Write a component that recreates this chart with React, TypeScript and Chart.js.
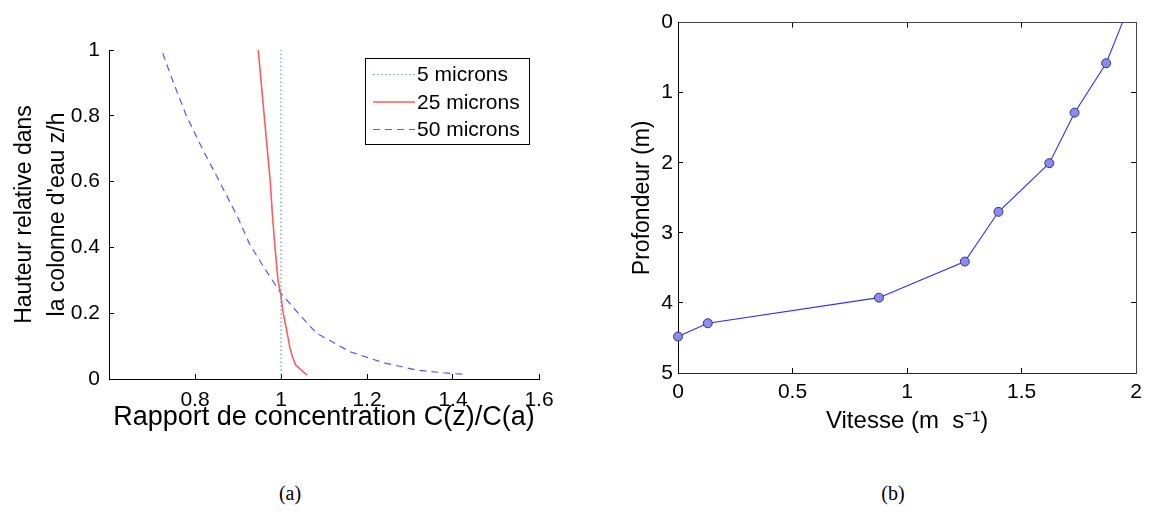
import React, { useEffect, useRef } from 'react';
import { Chart, registerables } from 'chart.js';

Chart.register(...registerables);

const FONT = "'Liberation Sans', Arial, Helvetica, sans-serif";

// ---- Left panel (a) ----
const LEFT_X_TICKS = [0.8, 1, 1.2, 1.4, 1.6];
const LEFT_Y_TICKS = [0, 0.2, 0.4, 0.6, 0.8, 1];
const LEFT_X_TITLE = 'Rapport de concentration C(z)/C(a)';
const LEFT_Y_TITLE = ['Hauteur relative dans', "la colonne d'eau z/h"];
const SERIES_LABELS = ['5 microns', '25 microns', '50 microns'];

const RATIO_5 = [1, 1];
const HEIGHT_5 = [0, 1];

const RATIO_25 = [0.947, 0.954, 0.961, 0.968, 0.975, 0.98, 0.986, 0.993, 0.999, 1.005, 1.013, 1.02, 1.026, 1.034, 1.047, 1.061];
const HEIGHT_25 = [1.0, 0.9, 0.8, 0.7, 0.6, 0.5, 0.4, 0.3, 0.26, 0.2, 0.15, 0.1, 0.07, 0.043, 0.027, 0.012];

const RATIO_50 = [0.725, 0.75, 0.78, 0.817, 0.857, 0.9, 0.927, 0.96, 1.0, 1.04, 1.082, 1.16, 1.237, 1.315, 1.393, 1.43];
const HEIGHT_50 = [0.99, 0.9, 0.8, 0.7, 0.6, 0.49, 0.41, 0.34, 0.26, 0.2, 0.14, 0.083, 0.05, 0.027, 0.017, 0.014];

// ---- Right panel (b) ----
const RIGHT_X_TICKS = [0, 0.5, 1, 1.5, 2];
const RIGHT_Y_TICKS = [0, 1, 2, 3, 4, 5];
const RIGHT_X_TITLE = 'Vitesse (m  s\u207B\u00B9)';
const RIGHT_Y_TITLE = 'Profondeur (m)';
const VELOCITY = [0, 0.13, 0.877, 1.252, 1.399, 1.621, 1.731, 1.869, 1.94];
const DEPTH = [4.48, 4.29, 3.925, 3.41, 2.7, 2.006, 1.285, 0.58, 0];
const MARKED = [true, true, true, true, true, true, true, true, false];

const CAPTIONS = ['(a)', '(b)'];

const zip = (xs: number[], ys: number[]) => xs.map((x, i) => ({ x, y: ys[i] }));
const setTicks = (vals: number[]) => (s: any) => {
  s.ticks = vals.map((v) => ({ value: v }));
};
const plainLabel = (v: any) => String(Number(v));

const tickFont = { family: FONT, size: 21 };

const legendBox = {
  id: 'legendBox',
  afterDraw(chart: any) {
    const ctx = chart.ctx;
    ctx.save();
    ctx.fillStyle = '#fff';
    ctx.fillRect(365.5, 58.5, 164, 86);
    ctx.strokeStyle = '#000';
    ctx.lineWidth = 1;
    ctx.strokeRect(365.5, 58.5, 164, 86);
    chart.data.datasets.forEach((ds: any, i: number) => {
      const y = 74.5 + i * 27.5;
      ctx.strokeStyle = ds.borderColor;
      ctx.lineWidth = ds.borderWidth;
      ctx.setLineDash(ds.borderDash || []);
      ctx.beginPath();
      ctx.moveTo(373, y);
      ctx.lineTo(415, y);
      ctx.stroke();
      ctx.setLineDash([]);
      ctx.fillStyle = '#000';
      ctx.font = `21px ${FONT}`;
      ctx.textBaseline = 'middle';
      ctx.textAlign = 'left';
      ctx.fillText(ds.label, 417, y + 1);
    });
    ctx.restore();
  },
};

function LeftChart() {
  const ref = useRef<HTMLCanvasElement | null>(null);
  useEffect(() => {
    const chart = new Chart(ref.current as HTMLCanvasElement, {
      type: 'line',
      data: {
        datasets: [
          { label: SERIES_LABELS[0], data: zip(RATIO_5, HEIGHT_5), borderColor: '#5aa6a6', borderWidth: 1.2, borderDash: [1.5, 2.5], pointRadius: 0 },
          { label: SERIES_LABELS[1], data: zip(RATIO_25, HEIGHT_25), borderColor: '#ff5c5c', borderWidth: 1.6, pointRadius: 0 },
          { label: SERIES_LABELS[2], data: zip(RATIO_50, HEIGHT_50), borderColor: '#5555ff', borderWidth: 1.2, borderDash: [7, 5], pointRadius: 0 },
        ],
      },
      options: {
        animation: false,
        responsive: false,
        maintainAspectRatio: false,
        devicePixelRatio: 1,
        layout: { padding: { left: 0, top: 50, right: 38, bottom: 0 } },
        plugins: { legend: { display: false }, tooltip: { enabled: false } },
        elements: { line: { tension: 0 } },
        scales: {
          x: {
            type: 'linear',
            position: 'bottom',
            min: 0.6,
            max: 1.6,
            afterBuildTicks: setTicks(LEFT_X_TICKS),
            afterFit: (s: any) => { s.height = 81; },
            grid: { drawOnChartArea: false, drawTicks: true, tickLength: -5, color: '#000' },
            border: { display: true, color: '#000', width: 1 },
            ticks: { font: tickFont, color: '#000', padding: 14, maxRotation: 0, autoSkip: false, callback: plainLabel },
            title: { display: true, text: LEFT_X_TITLE, color: '#000', font: { family: FONT, size: 27 }, padding: { top: 0, bottom: 26 } },
          },
          y: {
            type: 'linear',
            position: 'left',
            min: 0,
            max: 1,
            afterBuildTicks: setTicks(LEFT_Y_TICKS),
            afterFit: (s: any) => { s.width = 109; },
            grid: { drawOnChartArea: false, drawTicks: true, tickLength: -5, color: '#000' },
            border: { display: true, color: '#000', width: 1 },
            ticks: { font: tickFont, color: '#000', padding: 14, autoSkip: false, callback: plainLabel },
            title: { display: true, text: LEFT_Y_TITLE, color: '#000', font: { family: FONT, size: 23, lineHeight: 1.4 }, padding: { top: 9, bottom: 0 } },
          },
        },
      },
      plugins: [legendBox],
    } as any);
    return () => chart.destroy();
  }, []);
  return (
    <canvas ref={ref} width={577} height={460}
      style={{ position: 'absolute', left: 0, top: 0, width: 577, height: 460 }} />
  );
}

function RightChart() {
  const ref = useRef<HTMLCanvasElement | null>(null);
  useEffect(() => {
    const axisGrid = { drawOnChartArea: false, drawTicks: true, tickLength: -5, color: '#000' };
    const chart = new Chart(ref.current as HTMLCanvasElement, {
      type: 'line',
      data: {
        datasets: [
          {
            label: 'profil',
            data: zip(VELOCITY, DEPTH),
            borderColor: '#2d2dff',
            borderWidth: 1.1,
            pointRadius: MARKED.map((m) => (m ? 4.5 : 0)),
            pointBackgroundColor: '#8a8af2',
            pointBorderColor: '#34346e',
            pointBorderWidth: 1,
            clip: false,
          },
        ],
      },
      options: {
        animation: false,
        responsive: false,
        maintainAspectRatio: false,
        devicePixelRatio: 1,
        layout: { padding: { left: 0, top: 19, right: 7, bottom: 0 } },
        plugins: { legend: { display: false }, tooltip: { enabled: false } },
        elements: { line: { tension: 0 } },
        scales: {
          x: {
            type: 'linear',
            position: 'bottom',
            min: 0,
            max: 2,
            afterBuildTicks: setTicks(RIGHT_X_TICKS),
            afterFit: (s: any) => { s.height = 87; },
            grid: axisGrid,
            border: { display: true, color: '#222', width: 1 },
            ticks: { font: tickFont, color: '#000', padding: 12, maxRotation: 0, autoSkip: false, callback: plainLabel },
            title: { display: true, text: RIGHT_X_TITLE, color: '#000', font: { family: FONT, size: 24 }, padding: { top: 0, bottom: 24 } },
          },
          x2: {
            type: 'linear',
            position: 'top',
            min: 0,
            max: 2,
            afterBuildTicks: setTicks(RIGHT_X_TICKS),
            afterFit: (s: any) => { s.height = 0; },
            grid: axisGrid,
            border: { display: true, color: '#444', width: 1 },
            ticks: { display: false },
          },
          y: {
            type: 'linear',
            position: 'left',
            reverse: true,
            min: 0,
            max: 5,
            afterBuildTicks: setTicks(RIGHT_Y_TICKS),
            afterFit: (s: any) => { s.width = 101; },
            grid: axisGrid,
            border: { display: true, color: '#000', width: 1 },
            ticks: { font: tickFont, color: '#000', padding: 10, autoSkip: false, callback: plainLabel },
            title: { display: true, text: RIGHT_Y_TITLE, color: '#000', font: { family: FONT, size: 23 }, padding: { top: 52, bottom: 0 } },
          },
          y2: {
            type: 'linear',
            position: 'right',
            reverse: true,
            min: 0,
            max: 5,
            afterBuildTicks: setTicks(RIGHT_Y_TICKS),
            afterFit: (s: any) => { s.width = 0; },
            grid: axisGrid,
            border: { display: true, color: '#444', width: 1 },
            ticks: { display: false },
          },
        },
      },
    } as any);
    return () => chart.destroy();
  }, []);
  return (
    <canvas ref={ref} width={577} height={460}
      style={{ position: 'absolute', left: 577, top: 0, width: 577, height: 460 }} />
  );
}

export default function App() {
  const captionStyle = (x: number): React.CSSProperties => ({
    position: 'absolute',
    left: x,
    top: 481,
    transform: 'translateX(-50%)',
    fontFamily: "'Liberation Serif', 'DejaVu Serif', serif",
    fontSize: 20,
    color: '#000',
    lineHeight: '24px',
    whiteSpace: 'nowrap',
  });
  return (
    <div style={{ position: 'fixed', left: 0, top: 0, width: 1154, height: 516, background: '#fff', overflow: 'hidden' }}>
      <LeftChart />
      <RightChart />
      <div style={captionStyle(290)}>{CAPTIONS[0]}</div>
      <div style={captionStyle(893)}>{CAPTIONS[1]}</div>
    </div>
  );
}
